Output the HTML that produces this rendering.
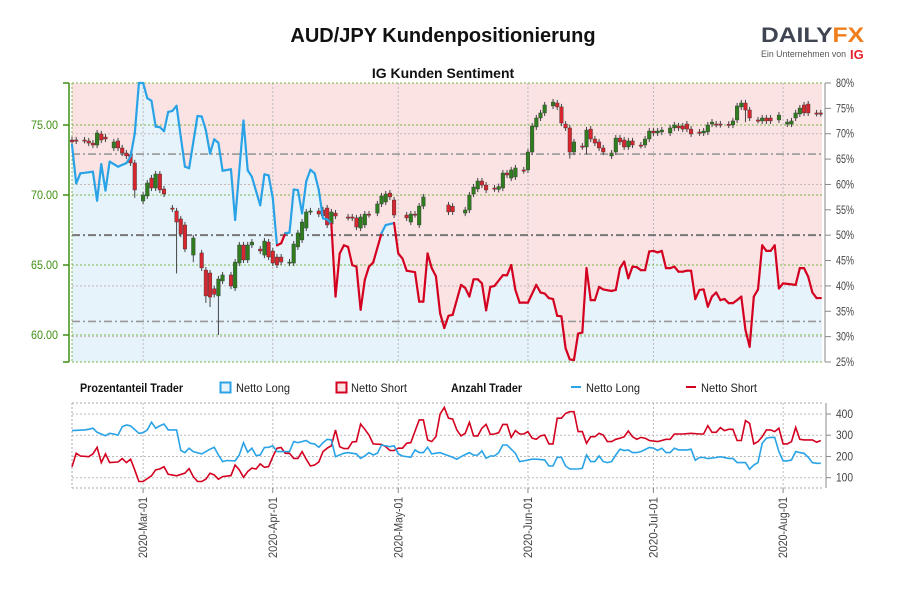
<!DOCTYPE html>
<html><head><meta charset="utf-8">
<style>
body{margin:0;background:#fff;}
svg text{font-family:"Liberation Sans Narrow","Liberation Sans",sans-serif;}
</style></head>
<body>
<svg id="chart" width="900" height="600" viewBox="0 0 900 600" xmlns="http://www.w3.org/2000/svg">
<text x="443" y="42" text-anchor="middle" font-size="20" font-weight="bold" fill="#111" style="font-family:'Liberation Sans',sans-serif">AUD/JPY Kundenpositionierung</text>
<g>
<text x="761" y="42" font-size="21" font-weight="bold" fill="#3f4652" textLength="103" lengthAdjust="spacingAndGlyphs" style="font-family:'Liberation Sans',sans-serif">DAILY<tspan fill="#f07d19">FX</tspan></text>
<text x="761" y="57" font-size="9" fill="#555" textLength="85" lengthAdjust="spacingAndGlyphs" style="font-family:'Liberation Sans',sans-serif">Ein Unternehmen von</text>
<text x="850" y="59" font-size="13" font-weight="bold" fill="#e3222e" style="font-family:'Liberation Sans',sans-serif">IG</text>
</g>
<text x="443" y="78" text-anchor="middle" font-size="14" font-weight="bold" fill="#111" style="font-family:'Liberation Sans',sans-serif">IG Kunden Sentiment</text>
<g id="main"></g>
<g id="bottom"></g>
<g font-size="12">
<text x="80" y="392" font-weight="bold" fill="#111" textLength="103" lengthAdjust="spacingAndGlyphs">Prozentanteil Trader</text>
<rect x="220.5" y="382.5" width="10" height="10" fill="#e6f3fb" stroke="#29a3e6" stroke-width="2"/>
<text x="236" y="392" fill="#222" textLength="54" lengthAdjust="spacingAndGlyphs">Netto Long</text>
<rect x="336.5" y="382.5" width="10" height="10" fill="#fbe3e4" stroke="#d40020" stroke-width="2"/>
<text x="351" y="392" fill="#222" textLength="56" lengthAdjust="spacingAndGlyphs">Netto Short</text>
<text x="451" y="392" font-weight="bold" fill="#111" textLength="71" lengthAdjust="spacingAndGlyphs">Anzahl Trader</text>
<line x1="571" y1="387" x2="581" y2="387" stroke="#29a3e6" stroke-width="2"/>
<text x="586" y="392" fill="#222" textLength="54" lengthAdjust="spacingAndGlyphs">Netto Long</text>
<line x1="686" y1="387" x2="696" y2="387" stroke="#d40020" stroke-width="2"/>
<text x="701" y="392" fill="#222" textLength="56" lengthAdjust="spacingAndGlyphs">Netto Short</text>
</g>
</svg>
<script>
// ---- data ----
const monthLabels=["2020-Mar-01","2020-Apr-01","2020-May-01","2020-Jun-01","2020-Jul-01","2020-Aug-01"];
const monthDays=[17,48,78,109,139,170];
const priceTicks=[75,70,65,60];
const pctTicks=[80,75,70,65,60,55,50,45,40,35,30,25];
const countTicks=[400,300,200,100];
const sentDays=[0,1,2,5,6,7,8,9,11,13,14,15,16,17,18,19,20,21,22,23,24,25,26,27,28,30,31,32,33,34,35,36,38,39,41,42,43,45,46,47,48,49,50,51,52,53,54,55,56,57,58,59,60,61,62,63,64,65,66,67,68,69,70,71,72,74,75,77,78,79,80,82,83,84,85,86,87,88,89,90,91,93,94,95,96,97,98,99,100,101,103,104,105,106,107,109,111,112,113,114,115,116,117,118,119,120,121,122,123,124,125,126,127,129,130,131,132,133,134,135,136,137,138,139,140,141,142,143,144,145,146,147,148,149,150,151,152,153,154,155,156,157,158,159,160,161,162,163,164,165,166,167,168,169,170,173,174,175,176,177,178,179];
const sentLong=[67.8,60.2,62.2,62.5,56.8,64,58.8,64.5,63.5,64.2,65.5,70,80,80,77,76.5,71.4,71.3,70.5,74.3,74.5,75.5,69.4,63.5,63.2,73.5,73.4,70.7,66.1,68.9,68.2,62.7,63,53,72.6,62.8,61.5,55.9,62,61.8,57.3,48,48.4,50.4,50.5,59,58.9,54.3,60.6,62.9,62.2,58.9,53.3,53.1,52.3,37.9,46.4,48,47.7,44.1,43.8,35.3,41.2,43.8,44.6,50.4,52,52.4,46.4,45.4,43,42.7,36.9,36.9,46.4,43.5,41.9,34.6,31.7,34.1,34.3,40.2,39.6,37.9,41.3,41.3,40.5,35.2,39.8,40,42.1,42.1,44.1,39.2,36.7,36.7,40.2,38.7,38.5,37.6,37.4,34.1,34,27.7,25.5,25.4,30.6,30.8,43.5,37.2,37.2,39.8,39.3,39,39.2,43.5,44.8,41.5,43.8,43.7,43.1,43.1,46.8,46.9,46.6,46.9,43.5,43.5,43.8,42.8,42.8,43,43,37.4,39.2,39.3,35.9,37.9,38.7,37.2,37.4,36.6,36.6,37.2,37.9,31.3,28,37.9,39.3,48,46.9,46.9,48,39.5,40.5,40.2,43.5,43.5,41.8,38.7,37.6,37.6];
const candleDays=[0,1,3,4,5,6,7,8,10,11,12,13,14,15,17,18,19,20,21,22,24,25,26,27,29,31,32,33,34,35,36,38,39,40,41,42,43,45,46,47,48,49,50,52,53,54,55,56,57,59,60,61,62,63,66,67,68,69,70,71,73,74,75,76,77,80,81,82,83,84,90,91,94,95,96,97,98,99,101,102,103,104,105,106,108,109,110,111,112,113,115,116,117,118,119,120,122,123,124,125,126,127,129,130,131,132,133,134,136,137,138,139,140,141,143,144,145,146,147,148,150,151,152,153,154,155,157,158,159,160,161,162,164,165,166,167,169,171,172,173,174,175,176,178,179];
const candleOpen=[73.93,73.93,73.93,73.86,73.71,73.57,74.36,74.14,73.36,73.86,73.36,73.0,72.9,72.29,69.57,69.93,71.21,70.5,71.5,70.43,69.07,68.86,68.29,67.86,65.71,65.86,64.64,64.43,63.3,62.79,63.86,64.29,63.36,65.14,66.43,65.36,66.43,66.14,65.71,66.64,66.0,65.57,65.57,65.14,65.14,66.29,66.79,67.64,68.79,68.86,68.93,69.07,67.93,68.71,68.43,68.43,68.36,67.64,67.86,68.64,68.71,69.36,69.5,70.14,69.64,68.57,68.07,68.64,67.86,69.21,69.29,69.2,68.71,68.93,70.07,70.43,71.0,70.71,70.5,70.4,70.5,71.57,71.21,71.29,71.79,71.79,73.07,74.86,75.5,75.86,76.36,76.57,76.29,75.07,74.79,73.07,73.5,73.43,74.71,74.0,73.79,73.36,72.79,73.07,74.07,73.93,73.43,73.86,73.57,73.57,74.0,74.57,74.43,74.5,74.43,74.79,74.93,74.93,75.07,74.71,74.5,74.43,74.5,75.07,75.07,75.07,75.05,75.0,75.36,76.29,76.57,76.07,75.36,75.29,75.5,75.5,75.36,75.07,75.07,75.5,75.79,76.43,76.5,75.86,75.86];
const candleClose=[73.79,73.86,73.9,73.71,73.57,74.43,73.93,74.0,73.79,73.36,73.0,72.79,72.29,70.36,70.0,70.86,70.5,71.5,70.36,70.07,69.0,68.07,67.21,66.14,66.93,64.79,62.79,62.71,62.9,64.0,64.29,63.5,65.21,66.43,65.36,66.43,66.64,66.0,66.71,65.57,65.14,65.0,65.21,65.21,66.5,67.29,68.07,68.79,68.86,68.64,68.5,67.86,68.79,68.5,68.4,68.36,67.71,68.43,68.64,68.6,69.36,69.93,70.07,69.86,68.57,68.36,68.64,68.6,69.21,69.86,68.79,68.8,68.93,70.0,70.57,71.0,70.71,70.36,70.45,70.6,71.57,71.43,71.79,71.93,71.75,73.07,74.93,75.5,75.86,76.43,76.64,76.29,75.14,74.79,73.07,73.79,73.45,74.64,74.0,73.71,73.36,73.07,73.0,74.07,73.79,73.43,73.86,73.57,73.55,74.0,74.57,74.43,74.57,74.64,74.79,75.0,74.79,74.71,74.71,74.36,74.45,74.57,75.0,75.21,75.05,75.03,75.0,75.29,76.36,76.57,76.07,75.5,75.33,75.5,75.29,75.29,75.71,75.21,75.29,75.86,76.21,75.86,75.86,75.83,75.83];
const candleLowWicks={15:69.8,25:64.4,29:65.2,32:62.3,33:62.0,35:60.0,119:72.6,123:72.9,161:75.2};
const longDays=[0,3,4,5,6,8,9,10,11,12,13,14,16,17,18,19,20,21,22,23,25,26,27,28,29,31,32,33,34,35,36,37,39,40,41,42,43,44,45,46,47,48,49,50,52,53,54,56,57,58,59,60,61,62,63,65,66,68,69,70,71,72,73,74,76,77,78,79,81,82,83,84,85,86,88,89,91,92,93,95,96,97,98,99,100,101,102,103,104,105,106,107,108,110,111,113,114,115,116,117,118,119,121,122,123,124,125,126,127,128,129,130,131,132,133,134,135,136,138,139,140,141,142,143,144,145,147,148,149,150,151,152,154,155,157,158,159,160,161,162,163,164,165,166,167,168,169,170,171,172,173,174,175,176,177,178,179];
const longCount=[322,325,328,333,314,298,309,306,300,340,348,344,309,312,325,361,333,344,353,325,325,228,218,239,223,212,223,234,243,207,176,181,179,207,265,220,239,204,207,242,243,250,223,223,223,270,265,275,262,259,243,265,281,278,199,215,218,212,191,202,218,207,215,254,246,250,212,202,196,231,218,218,243,212,218,210,196,187,199,218,206,207,226,192,202,202,218,254,254,234,215,176,179,187,187,184,155,155,196,196,155,141,141,144,207,176,176,202,176,171,176,207,234,228,231,218,218,223,242,239,228,239,218,218,239,231,231,234,182,195,195,190,195,199,191,191,171,171,171,140,160,171,262,286,290,290,223,179,179,184,223,218,215,196,171,168,168];
const shortDays=[0,1,2,4,5,6,7,8,9,11,12,13,14,15,16,17,19,20,21,22,23,25,27,28,29,30,31,32,33,34,35,36,38,39,40,41,42,43,44,45,46,47,48,49,50,51,52,53,54,55,56,57,58,59,60,61,62,63,64,65,66,67,68,69,70,71,72,74,75,76,77,78,79,80,81,83,84,85,86,87,88,89,90,91,92,93,94,95,96,97,98,99,100,101,102,103,104,105,106,107,108,109,110,111,112,113,114,115,116,117,118,119,120,121,122,123,124,125,126,127,128,129,130,131,132,133,134,135,136,137,138,140,142,143,144,146,148,150,151,152,153,154,155,156,157,158,159,160,161,162,163,164,165,166,167,168,169,170,171,172,173,174,175,177,178,179];
const shortCount=[152,215,202,199,212,243,171,212,171,174,190,171,187,137,82,82,109,137,141,152,116,109,121,143,105,82,82,93,121,113,93,105,110,160,137,102,129,145,141,165,149,152,199,239,242,215,215,191,191,223,187,155,160,174,223,239,250,325,246,237,237,268,270,353,328,301,259,257,246,228,228,239,239,262,265,372,372,278,270,293,400,431,380,376,325,297,309,361,297,297,333,351,304,306,312,351,351,290,322,306,306,317,286,281,297,301,259,259,380,380,403,411,411,317,317,262,293,293,309,301,270,270,281,286,293,320,293,281,290,286,275,270,281,281,306,306,309,306,306,345,314,314,336,322,328,328,275,275,369,356,259,270,293,325,325,317,333,259,259,270,337,281,278,278,267,275];

// ---- scales ----
const X0=72,X1=822,PT=83,PB=362,BT=403,BB=488;
function xOf(d){return X0+d*4.183;}
function priceY(p){return 125+(75-p)*14;}
function pctY(v){return PT+(80-v)*(PB-PT)/55;}
function countY(c){return 414+(400-c)*0.2123;}
const NS="http://www.w3.org/2000/svg";
function mk(tag,attrs,parent){const e=document.createElementNS(NS,tag);for(const k in attrs)e.setAttribute(k,attrs[k]);parent.appendChild(e);return e;}
const main=document.getElementById('main');
const bottom=document.getElementById('bottom');

// background
let bg=mk('rect',{x:X0,y:PT,width:X1-X0,height:PB-PT,fill:'#fbe3e4'},main);


let pts=sentDays.map((d,i)=>xOf(d).toFixed(1)+','+pctY(sentLong[i]).toFixed(1));
let lastY=pctY(sentLong[sentLong.length-1]).toFixed(1);
let area=mk('polygon',{points:X0+','+PB+' '+X0+','+pctY(sentLong[0]).toFixed(1)+' '+pts.join(' ')+' '+X1+','+lastY+' '+X1+','+PB,fill:'#e6f3fb'},main);



// grid
[70,60,40,30].forEach(v=>{const l=mk('line',{x1:X0,x2:X1,y1:pctY(v),y2:pctY(v),stroke:'#c8b8b8','stroke-width':1,'stroke-dasharray':'2,2'},main);

});
monthDays.forEach(d=>{const l=mk('line',{x1:xOf(d),x2:xOf(d),y1:PT,y2:PB,stroke:'#bbb','stroke-width':1,'stroke-dasharray':'2,2'},main);

});
priceTicks.forEach(p=>{const l=mk('line',{x1:X0,x2:X1,y1:priceY(p),y2:priceY(p),stroke:'#7ab648','stroke-width':1,'stroke-dasharray':'2,2'},main);

});
[66,50,33].forEach(v=>{const l=mk('line',{x1:X0,x2:X1,y1:pctY(v),y2:pctY(v),stroke:v==50?'#777':'#999','stroke-width':v==50?2:1.6,'stroke-dasharray':'8,3,2,3'},main);

});
[[X0,PT,X1,PT],[X0,PB,X1,PB],[X0,PT,X0,PB]].forEach(a=>{const l=mk('line',{x1:a[0],y1:a[1],x2:a[2],y2:a[3],stroke:'#7ab648','stroke-width':1,'stroke-dasharray':'2,2'},main);

});

// candles
candleDays.forEach((d,i)=>{
  const o=candleOpen[i],c=candleClose[i],up=c>=o;
  const hi=Math.max(o,c)+0.22, lo=(candleLowWicks[d]!==undefined)?candleLowWicks[d]:Math.min(o,c)-0.22;
  const x=xOf(d);
  const w=mk('line',{x1:x,x2:x,y1:priceY(hi),y2:priceY(lo),stroke:'#444','stroke-width':1},main);
  
  
  const yt=priceY(Math.max(o,c)),yb=priceY(Math.min(o,c));
  const b=mk('rect',{x:x-1.8,y:yt,width:3.6,height:Math.max(1.2,yb-yt),fill:up?'#2f7d1f':'#d7262e',stroke:'#333','stroke-width':0.4},main);
  
  
});

// sentiment line
for(let i=1;i<sentDays.length;i++){
  const a=sentLong[i-1],b=sentLong[i];
  const col=((a+b)/2>=50)?'#29a3e6':'#d40020';
  const s=mk('line',{x1:xOf(sentDays[i-1]),y1:pctY(a),x2:xOf(sentDays[i]),y2:pctY(b),stroke:col,'stroke-width':2.2,'stroke-linecap':'round'},main);
  
  
}

// left axis
let la=mk('line',{x1:69,x2:69,y1:PT,y2:PB,stroke:'#3f8f12','stroke-width':1.5},main);


[PT,PB].forEach(y=>{mk('line',{x1:63,x2:69,y1:y,y2:y,stroke:'#3f8f12','stroke-width':1.5},main);});
priceTicks.forEach(p=>{
  mk('line',{x1:63,x2:69,y1:priceY(p),y2:priceY(p),stroke:'#3f8f12','stroke-width':1.5},main);
  const t=mk('text',{x:58,y:priceY(p)+4,'text-anchor':'end','font-size':12,fill:'#3f8f12',textLength:27,lengthAdjust:'spacingAndGlyphs'},main);
  t.textContent=p.toFixed(2);
  
  
});
// right axis
let ra=mk('line',{x1:825,x2:825,y1:PT,y2:PB,stroke:'#888','stroke-width':1},main);


pctTicks.forEach(v=>{
  mk('line',{x1:825,x2:831,y1:pctY(v),y2:pctY(v),stroke:'#888','stroke-width':1},main);
  const t=mk('text',{x:836,y:pctY(v)+4,'font-size':12,fill:'#444',textLength:18,lengthAdjust:'spacingAndGlyphs'},main);
  t.textContent=v+'%';
  
  
});

// bottom panel
countTicks.forEach(c=>{const l=mk('line',{x1:X0,x2:X1,y1:countY(c),y2:countY(c),stroke:'#bbb','stroke-width':1,'stroke-dasharray':'2,2'},bottom);

});
monthDays.forEach(d=>{const l=mk('line',{x1:xOf(d),x2:xOf(d),y1:BT,y2:BB,stroke:'#bbb','stroke-width':1,'stroke-dasharray':'2,2'},bottom);

});
[[X0,BT,X1,BT],[X0,BB,X1,BB],[X0,BT,X0,BB]].forEach(a=>{mk('line',{x1:a[0],y1:a[1],x2:a[2],y2:a[3],stroke:'#aaa','stroke-width':1,'stroke-dasharray':'2,2'},bottom);});
let ba=mk('line',{x1:826,x2:826,y1:BT,y2:BB,stroke:'#888','stroke-width':1},bottom);


countTicks.forEach(c=>{
  mk('line',{x1:826,x2:831,y1:countY(c),y2:countY(c),stroke:'#888','stroke-width':1},bottom);
  const t=mk('text',{x:836,y:countY(c)+4,'font-size':12,fill:'#444',textLength:17,lengthAdjust:'spacingAndGlyphs'},bottom);
  t.textContent=c;
  
  
});
monthDays.forEach((d,i)=>{
  mk('line',{x1:xOf(d),x2:xOf(d),y1:BB,y2:BB+5,stroke:'#888','stroke-width':1},bottom);
  const x=xOf(d)+4;
  const t=mk('text',{x:x,y:497,'text-anchor':'end','font-size':12,fill:'#444',textLength:61,lengthAdjust:'spacingAndGlyphs',transform:'rotate(-90 '+x+' 497)'},bottom);
  t.textContent=monthLabels[i];
  
  
});
let sl=mk('polyline',{points:shortDays.map((d,i)=>xOf(d).toFixed(1)+','+countY(shortCount[i]).toFixed(1)).join(' '),fill:'none',stroke:'#d40020','stroke-width':1.6},bottom);


let ll=mk('polyline',{points:longDays.map((d,i)=>xOf(d).toFixed(1)+','+countY(longCount[i]).toFixed(1)).join(' '),fill:'none',stroke:'#29a3e6','stroke-width':1.6},bottom);


</script>
</body></html>
